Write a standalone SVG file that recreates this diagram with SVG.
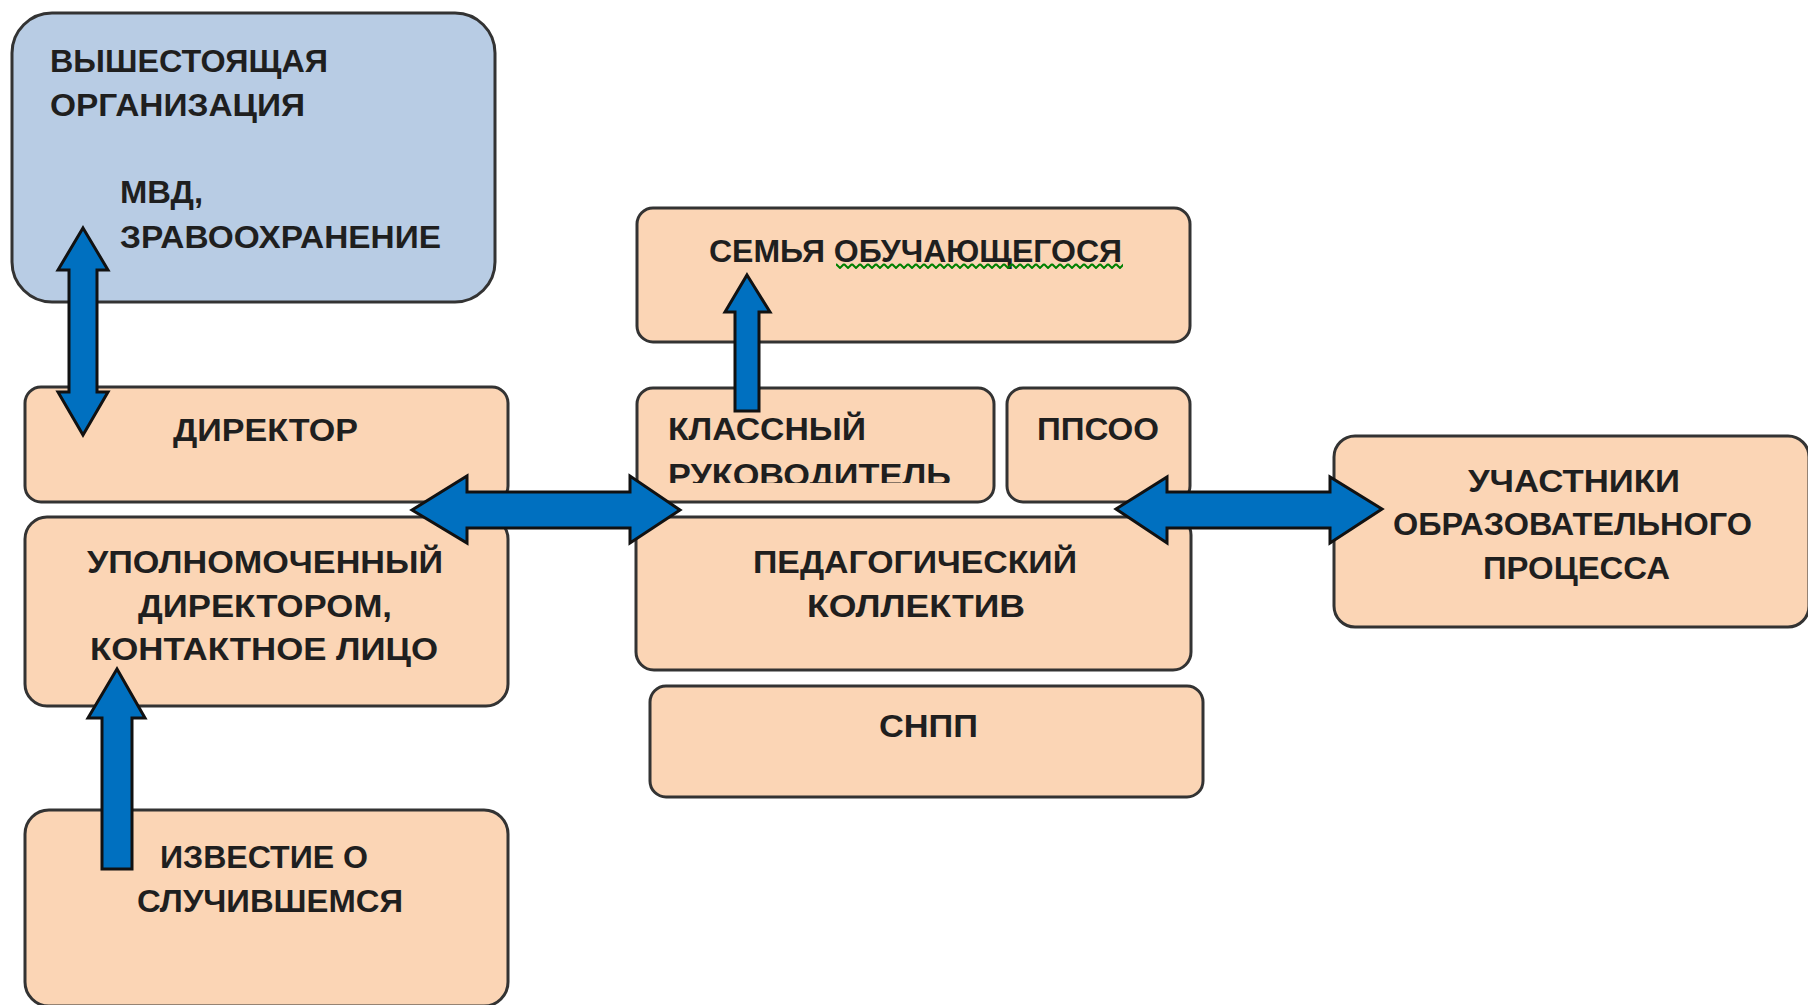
<svg xmlns="http://www.w3.org/2000/svg" width="1808" height="1005" viewBox="0 0 1808 1005">
<style>
.box{fill:#FBD5B5;stroke:#333;stroke-width:3}
.blue{fill:#B8CCE4;stroke:#333;stroke-width:3}
.t{font-family:"Liberation Sans","DejaVu Sans",sans-serif;font-size:32px;font-weight:bold;fill:#1f1f1f}
.c{text-anchor:middle}
.arr{fill:#0070C0;stroke:#111;stroke-width:3;stroke-linejoin:miter}
</style>
<defs>
<pattern id="sq" x="836" y="263" width="8" height="6" patternUnits="userSpaceOnUse">
<path d="M0,1 L4,5 L8,1" fill="none" stroke="#008000" stroke-width="2"/>
</pattern>
<clipPath id="clipKR"><rect x="637" y="388" width="357" height="95"/></clipPath>
</defs>
<rect width="1808" height="1005" fill="#fff"/>
<g id="node-vyshestoyaschaya">
<rect class="blue" x="12" y="13" width="483" height="289" rx="40"/>
<text class="t" x="50" y="72" textLength="278" lengthAdjust="spacingAndGlyphs">ВЫШЕСТОЯЩАЯ</text>
<text class="t" x="50" y="116" textLength="255" lengthAdjust="spacingAndGlyphs">ОРГАНИЗАЦИЯ</text>
<text class="t" x="120" y="203" textLength="83" lengthAdjust="spacingAndGlyphs">МВД,</text>
<text class="t" x="120" y="248" textLength="321" lengthAdjust="spacingAndGlyphs">ЗРАВООХРАНЕНИЕ</text>
</g>
<g id="node-direktor">
<rect class="box" x="25" y="387" width="483" height="115" rx="16"/>
<text class="t c" x="265.5" y="441" textLength="185" lengthAdjust="spacingAndGlyphs">ДИРЕКТОР</text>
</g>
<g id="node-upolnomochenny">
<rect class="box" x="25" y="517" width="483" height="189" rx="22"/>
<text class="t c" x="265" y="573" textLength="356" lengthAdjust="spacingAndGlyphs">УПОЛНОМОЧЕННЫЙ</text>
<text class="t c" x="265" y="617" textLength="254" lengthAdjust="spacingAndGlyphs">ДИРЕКТОРОМ,</text>
<text class="t c" x="264" y="660" textLength="348" lengthAdjust="spacingAndGlyphs">КОНТАКТНОЕ ЛИЦО</text>
</g>
<g id="node-izvestie">
<rect class="box" x="25" y="810" width="483" height="196" rx="24"/>
<text class="t c" x="264" y="868" textLength="208" lengthAdjust="spacingAndGlyphs">ИЗВЕСТИЕ О</text>
<text class="t c" x="270" y="912" textLength="266" lengthAdjust="spacingAndGlyphs">СЛУЧИВШЕМСЯ</text>
</g>
<g id="node-semya">
<rect class="box" x="637" y="208" width="553" height="134" rx="16"/>
<text class="t c" x="915.5" y="262" textLength="413" lengthAdjust="spacingAndGlyphs">СЕМЬЯ ОБУЧАЮЩЕГОСЯ</text>
<rect x="836" y="263" width="287" height="6" fill="url(#sq)"/>
</g>
<g id="node-klassny">
<rect class="box" x="637" y="388" width="357" height="114" rx="16"/>
<text class="t" x="668" y="440" textLength="198" lengthAdjust="spacingAndGlyphs">КЛАССНЫЙ</text>
<text class="t" x="668" y="486" textLength="283" lengthAdjust="spacingAndGlyphs" clip-path="url(#clipKR)">РУКОВОДИТЕЛЬ</text>
</g>
<g id="node-ppsoo">
<rect class="box" x="1007" y="388" width="183" height="114" rx="16"/>
<text class="t c" x="1098" y="440" textLength="122" lengthAdjust="spacingAndGlyphs">ППСОО</text>
</g>
<g id="node-pedkollektiv">
<rect class="box" x="636" y="517" width="555" height="153" rx="18"/>
<text class="t c" x="915" y="573" textLength="324" lengthAdjust="spacingAndGlyphs">ПЕДАГОГИЧЕСКИЙ</text>
<text class="t c" x="916" y="617" textLength="218" lengthAdjust="spacingAndGlyphs">КОЛЛЕКТИВ</text>
</g>
<g id="node-snpp">
<rect class="box" x="650" y="686" width="553" height="111" rx="16"/>
<text class="t c" x="928.5" y="737" textLength="99" lengthAdjust="spacingAndGlyphs">СНПП</text>
</g>
<g id="node-uchastniki">
<rect class="box" x="1334" y="436" width="475" height="191" rx="21"/>
<text class="t c" x="1574" y="492" textLength="212" lengthAdjust="spacingAndGlyphs">УЧАСТНИКИ</text>
<text class="t c" x="1572.5" y="535" textLength="359" lengthAdjust="spacingAndGlyphs">ОБРАЗОВАТЕЛЬНОГО</text>
<text class="t c" x="1576.5" y="579" textLength="187" lengthAdjust="spacingAndGlyphs">ПРОЦЕССА</text>
</g>
<g id="connectors">
<path class="arr" d="M83,228 L108,270 L97,270 L97,392 L108,392 L83,435 L58,392 L69,392 L69,270 L58,270 Z"/>
<path class="arr" d="M412,510 L467,476 L467,492 L630,492 L630,476 L680,510 L630,543 L630,528 L467,528 L467,543 Z"/>
<path class="arr" d="M1116,509 L1167,477 L1167,492 L1330,492 L1330,477 L1382,509 L1330,543 L1330,528 L1167,528 L1167,543 Z"/>
<path class="arr" d="M747,275 L770,312 L759,312 L759,411 L735,411 L735,312 L725,312 Z"/>
<path class="arr" d="M117,669 L145,718 L132,718 L132,869 L102,869 L102,718 L88,718 Z"/>
</g>
</svg>
